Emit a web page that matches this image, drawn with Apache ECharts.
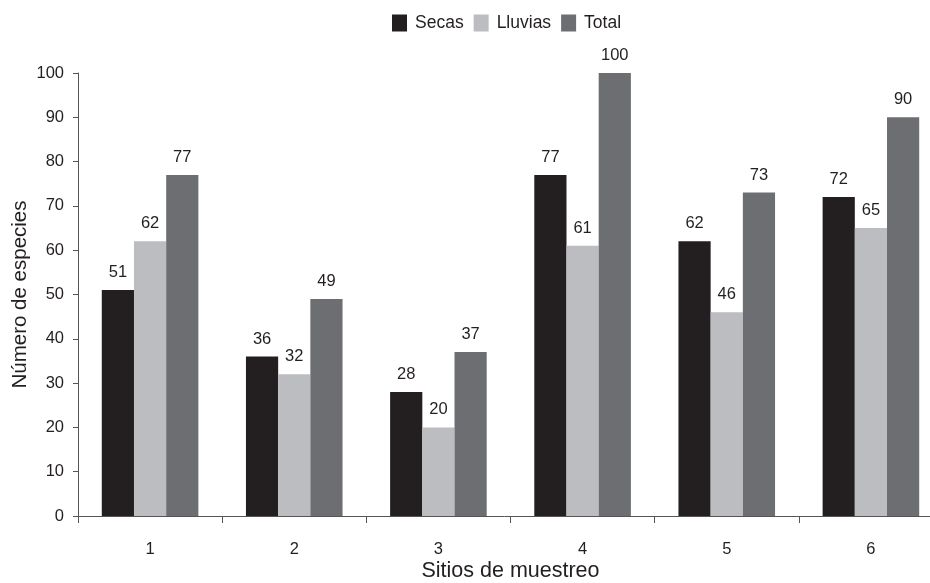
<!DOCTYPE html>
<html><head><meta charset="utf-8">
<script src="https://cdn.jsdelivr.net/npm/echarts@6/dist/echarts.min.js"></script>
<style>html,body{margin:0;padding:0;background:#fff;overflow:hidden}#c{width:930px;height:583px}</style>
</head><body><div id="c"></div>
<script>
const categories = ['1','2','3','4','5','6'];
const secas = [51, 36, 28, 77, 62, 72];
const lluvias = [62, 32, 20, 61, 46, 65];
const total = [77, 49, 37, 100, 73, 90];
const seriesNames = ['Secas','Lluvias','Total'];
const colors = ['#231f20','#bcbdc1','#6d6e71'];
const FONT = '"Liberation Sans", Arial, sans-serif';
const chart = echarts.init(document.getElementById('c'));
const label = {show:true, position:'top', distance:9, fontSize:16.5, color:'#231f20', fontFamily:FONT};
chart.setOption({
  animation:false,
  textStyle:{fontFamily:FONT},
  legend:{top:9, left:387, itemWidth:15, itemHeight:17, itemGap:10,
    textStyle:{fontSize:17.5, color:'#231f20', fontFamily:FONT, padding:[0,0,0,3]},
    icon:'rect', data:seriesNames},
  grid:{left:78, width:865, top:73, height:443, containLabel:false, outerBoundsMode:'none'},
  xAxis:{type:'category', data:categories,
    axisLine:{lineStyle:{color:'#555', width:1}},
    axisTick:{show:true, length:7, lineStyle:{color:'#555'}},
    axisLabel:{fontSize:16.5, color:'#231f20', margin:25},
    name:'Sitios de muestreo', nameLocation:'middle', nameGap:44, nameMoveOverlap:false,
    nameTextStyle:{fontSize:21.5, color:'#231f20'}},
  yAxis:{type:'value', min:0, max:100, interval:10,
    axisLine:{show:true, lineStyle:{color:'#555', width:1}},
    axisTick:{show:true, length:5, lineStyle:{color:'#555'}},
    splitLine:{show:false},
    axisLabel:{fontSize:16.5, color:'#231f20', margin:14},
    name:'Número de especies', nameLocation:'middle', nameGap:47, nameMoveOverlap:false,
    nameTextStyle:{fontSize:20.5, color:'#231f20'}},
  series:[
    {name:seriesNames[0], type:'bar', data:secas, itemStyle:{color:colors[0]}, barGap:'0%', barCategoryGap:'33%', label},
    {name:seriesNames[1], type:'bar', data:lluvias, itemStyle:{color:colors[1]}, barGap:'0%', barCategoryGap:'33%', label},
    {name:seriesNames[2], type:'bar', data:total, itemStyle:{color:colors[2]}, barGap:'0%', barCategoryGap:'33%', label}
  ]
});
</script></body></html>
